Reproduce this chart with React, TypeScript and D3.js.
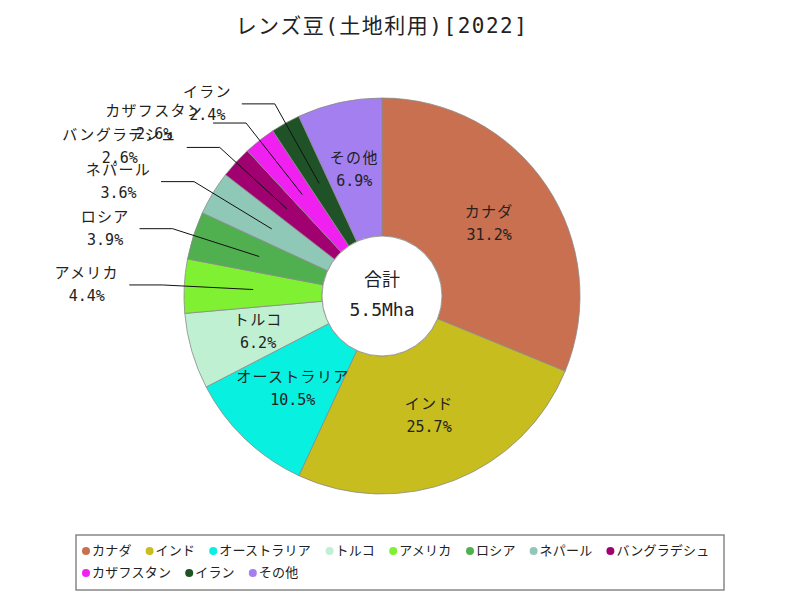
import React from "react";
import * as d3 from "d3";

const categories = ["カナダ", "インド", "オーストラリア", "トルコ", "アメリカ", "ロシア", "ネパール", "バングラデシュ", "カザフスタン", "イラン", "その他"];
const shares = [31.2, 25.7, 10.5, 6.2, 4.4, 3.9, 3.6, 2.6, 2.6, 2.4, 6.9];
const colors = ["#c8704f", "#c8bd1e", "#08f0e0", "#c0f0d2", "#80f032", "#50b050", "#90c8b8", "#a00070", "#f020f0", "#1f5226", "#a47ff0"];
const title = "レンズ豆(土地利用)[2022]";
const totalLabel = "合計";
const totalValue = "5.5Mha";

const W = 800, H = 600;
const cx = 382, cy = 296;
const rOuter = 198, rInner = 60;
const FONT = "'DejaVu Sans Mono', 'Noto Sans CJK JP', monospace";
const LFONT = "'Noto Sans CJK JP', 'Noto Sans', sans-serif";

export default function App() {
  const data = categories.map((c, i) => ({ name: c, value: shares[i], color: colors[i] }));
  const pie = d3.pie<any>().sort(null).value((d: any) => d.value).startAngle(0).endAngle(Math.PI * 2);
  const arcs = pie(data);
  const arc = d3.arc<any>().innerRadius(rInner).outerRadius(rOuter);

  // legend layout
  const legendX = 76, legendY = 535, legendW = 648, legendH = 55;
  const charW = 13.2;
  const items: { name: string; color: string; x: number; y: number }[] = [];
  let lx = legendX + 6, row = 0;
  data.forEach((d) => {
    const w = 10 + [...d.name].length * charW + 14;
    if (lx + w - 14 > legendX + legendW - 4) { row += 1; lx = legendX + 6; }
    items.push({ name: d.name, color: d.color, x: lx, y: legendY + 16 + row * 22 });
    lx += w;
  });

  return (
    <div style={{ position: "absolute", left: 0, top: 0 }}>
      <svg width={W} height={H} style={{ display: "block", background: "#fff" }} fontFamily={FONT}>
        <text x={cx} y={27} textAnchor="middle" dominantBaseline="middle" fontSize={21} letterSpacing={1.5} fill="#222">{title}</text>
        <g transform={`translate(${cx},${cy})`}>
          {arcs.map((a, i) => (
            <path key={i} d={arc(a) as string} fill={a.data.color} stroke="#8a8a8a" strokeWidth={0.8} />
          ))}
          <circle r={rInner} fill="#fff" stroke="#8a8a8a" strokeWidth={0.8} />
          {arcs.map((a, i) => {
            const [x, y] = arc.centroid(a);
            const pct = a.data.value.toFixed(1) + "%";
            if (a.data.value >= 5) {
              return (
                <g key={"l" + i} fontSize={15} fill="#222" textAnchor="middle">
                  <text x={x} y={y - 11.5} dominantBaseline="middle" letterSpacing={1.3}>{a.data.name}</text>
                  <text x={x} y={y + 11.5} dominantBaseline="middle">{pct}</text>
                </g>
              );
            }
            const mid = (a.startAngle + a.endAngle) / 2;
            const ex = 220 * Math.sin(mid), ey = -220 * Math.cos(mid);
            const endX = ex - 33;
            const nameLen = [...a.data.name].length;
            const tc = endX - 10 - (nameLen * 16.3) / 2;
            return (
              <g key={"l" + i}>
                <polyline points={`${x},${y} ${ex},${ey} ${endX},${ey}`} fill="none" stroke="#111" strokeWidth={1} />
                <g fontSize={15} fill="#222" textAnchor="middle">
                  <text x={tc} y={ey - 11.5} dominantBaseline="middle" letterSpacing={1.3}>{a.data.name}</text>
                  <text x={tc} y={ey + 11.5} dominantBaseline="middle">{pct}</text>
                </g>
              </g>
            );
          })}
          <text x={0} y={-15} textAnchor="middle" dominantBaseline="middle" fontSize={18} fill="#222">{totalLabel}</text>
          <text x={0} y={15} textAnchor="middle" dominantBaseline="middle" fontSize={18} fill="#222">{totalValue}</text>
        </g>
        <rect x={legendX} y={legendY} width={legendW} height={legendH} fill="#fff" stroke="#888" strokeWidth={1.5} />
        {items.map((it, i) => (
          <g key={"lg" + i}>
            <circle cx={it.x + 4} cy={it.y} r={4} fill={it.color} />
            <text x={it.x + 10} y={it.y} dominantBaseline="middle" fontSize={13} fontFamily={LFONT} letterSpacing={0.2} fill="#222">{it.name}</text>
          </g>
        ))}
      </svg>
    </div>
  );
}
